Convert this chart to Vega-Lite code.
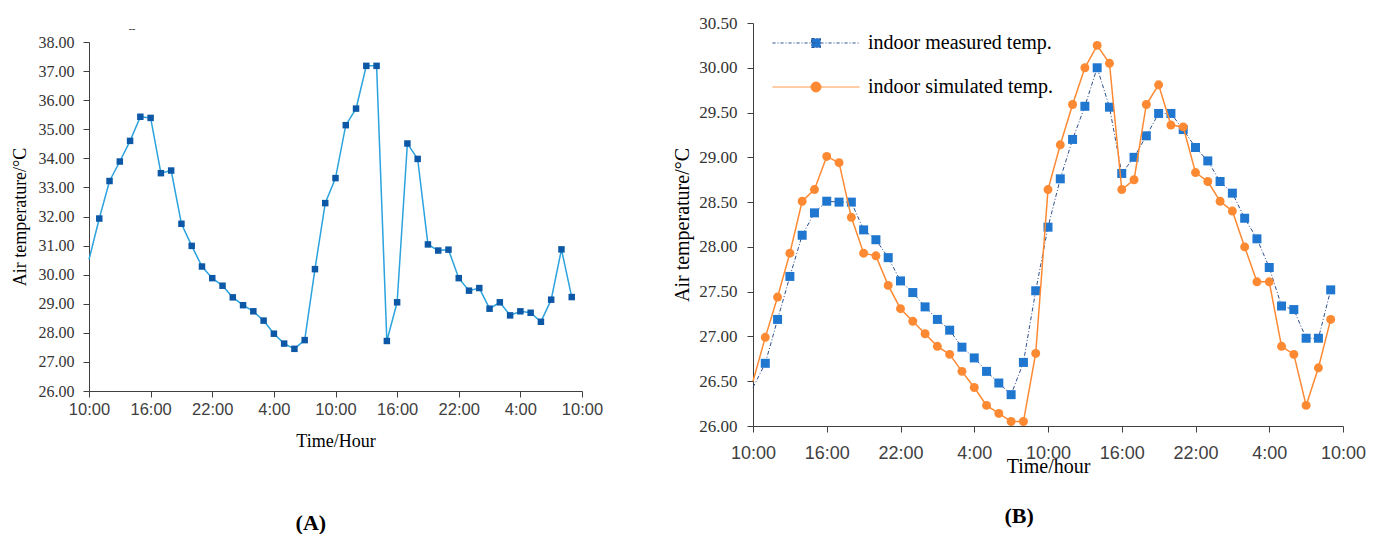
{
  "$schema": "https://vega.github.io/schema/vega-lite/v6.json",
  "background": "white",
  "padding": {"left": 11, "top": 14, "right": 0, "bottom": 0},
  "spacing": 69,
  "resolve": {"legend": {"stroke": "independent", "fill": "independent", "shape": "independent", "strokeDash": "independent"}},
  "config": {
    "view": {"stroke": null},
    "axis": {"grid": false, "domainColor": "#404040", "tickColor": "#404040", "tickSize": 6, "titleFont": "Liberation Serif", "titleFontWeight": "normal", "titleColor": "#000000", "labelOverlap": false, "labelFlush": false},
    "title": {"font": "Liberation Serif", "color": "#000000"},
    "legend": {"orient": "none", "legendX": 53, "legendY": 10, "title": null, "padding": 0,
      "symbolSize": 144, "symbolStrokeWidth": 1, "symbolOpacity": 1, "rowPadding": 24,
      "labelFont": "Liberation Serif", "labelFontSize": 20, "labelColor": "#000000", "labelOffset": 42, "labelLimit": 400}
  },
  "datasets": {
    "a": [
      {"hour": 0, "temp": 30.52}, {"hour": 1, "temp": 31.93}, {"hour": 2, "temp": 33.22}, {"hour": 3, "temp": 33.89},
      {"hour": 4, "temp": 34.6}, {"hour": 5, "temp": 35.43}, {"hour": 6, "temp": 35.39}, {"hour": 7, "temp": 33.49},
      {"hour": 8, "temp": 33.58}, {"hour": 9, "temp": 31.75}, {"hour": 10, "temp": 30.99}, {"hour": 11, "temp": 30.28},
      {"hour": 12, "temp": 29.88}, {"hour": 13, "temp": 29.62}, {"hour": 14, "temp": 29.22}, {"hour": 15, "temp": 28.95},
      {"hour": 16, "temp": 28.74}, {"hour": 17, "temp": 28.42}, {"hour": 18, "temp": 27.97}, {"hour": 19, "temp": 27.63},
      {"hour": 20, "temp": 27.45}, {"hour": 21, "temp": 27.75}, {"hour": 22, "temp": 30.19}, {"hour": 23, "temp": 32.46},
      {"hour": 24, "temp": 33.32}, {"hour": 25, "temp": 35.14}, {"hour": 26, "temp": 35.71}, {"hour": 27, "temp": 37.18},
      {"hour": 28, "temp": 37.18}, {"hour": 29, "temp": 27.72}, {"hour": 30, "temp": 29.05}, {"hour": 31, "temp": 34.51},
      {"hour": 32, "temp": 33.98}, {"hour": 33, "temp": 31.04}, {"hour": 34, "temp": 30.83}, {"hour": 35, "temp": 30.86},
      {"hour": 36, "temp": 29.88}, {"hour": 37, "temp": 29.45}, {"hour": 38, "temp": 29.54}, {"hour": 39, "temp": 28.83},
      {"hour": 40, "temp": 29.05}, {"hour": 41, "temp": 28.6}, {"hour": 42, "temp": 28.74}, {"hour": 43, "temp": 28.69},
      {"hour": 44, "temp": 28.38}, {"hour": 45, "temp": 29.14}, {"hour": 46, "temp": 30.87}, {"hour": 47, "temp": 29.23}
    ],
    "b": [
      {"hour": 0, "series": "indoor measured temp.", "temp": 26.43}, {"hour": 1, "series": "indoor measured temp.", "temp": 26.7},
      {"hour": 2, "series": "indoor measured temp.", "temp": 27.19}, {"hour": 3, "series": "indoor measured temp.", "temp": 27.67},
      {"hour": 4, "series": "indoor measured temp.", "temp": 28.13}, {"hour": 5, "series": "indoor measured temp.", "temp": 28.38},
      {"hour": 6, "series": "indoor measured temp.", "temp": 28.51}, {"hour": 7, "series": "indoor measured temp.", "temp": 28.5},
      {"hour": 8, "series": "indoor measured temp.", "temp": 28.5}, {"hour": 9, "series": "indoor measured temp.", "temp": 28.19},
      {"hour": 10, "series": "indoor measured temp.", "temp": 28.08}, {"hour": 11, "series": "indoor measured temp.", "temp": 27.88},
      {"hour": 12, "series": "indoor measured temp.", "temp": 27.62}, {"hour": 13, "series": "indoor measured temp.", "temp": 27.49},
      {"hour": 14, "series": "indoor measured temp.", "temp": 27.33}, {"hour": 15, "series": "indoor measured temp.", "temp": 27.19},
      {"hour": 16, "series": "indoor measured temp.", "temp": 27.07}, {"hour": 17, "series": "indoor measured temp.", "temp": 26.88},
      {"hour": 18, "series": "indoor measured temp.", "temp": 26.76}, {"hour": 19, "series": "indoor measured temp.", "temp": 26.61},
      {"hour": 20, "series": "indoor measured temp.", "temp": 26.48}, {"hour": 21, "series": "indoor measured temp.", "temp": 26.35},
      {"hour": 22, "series": "indoor measured temp.", "temp": 26.71}, {"hour": 23, "series": "indoor measured temp.", "temp": 27.51},
      {"hour": 24, "series": "indoor measured temp.", "temp": 28.22}, {"hour": 25, "series": "indoor measured temp.", "temp": 28.76},
      {"hour": 26, "series": "indoor measured temp.", "temp": 29.2}, {"hour": 27, "series": "indoor measured temp.", "temp": 29.57},
      {"hour": 28, "series": "indoor measured temp.", "temp": 30.0}, {"hour": 29, "series": "indoor measured temp.", "temp": 29.56},
      {"hour": 30, "series": "indoor measured temp.", "temp": 28.82}, {"hour": 31, "series": "indoor measured temp.", "temp": 29.0},
      {"hour": 32, "series": "indoor measured temp.", "temp": 29.24}, {"hour": 33, "series": "indoor measured temp.", "temp": 29.49},
      {"hour": 34, "series": "indoor measured temp.", "temp": 29.49}, {"hour": 35, "series": "indoor measured temp.", "temp": 29.31},
      {"hour": 36, "series": "indoor measured temp.", "temp": 29.11}, {"hour": 37, "series": "indoor measured temp.", "temp": 28.96},
      {"hour": 38, "series": "indoor measured temp.", "temp": 28.73}, {"hour": 39, "series": "indoor measured temp.", "temp": 28.6},
      {"hour": 40, "series": "indoor measured temp.", "temp": 28.32}, {"hour": 41, "series": "indoor measured temp.", "temp": 28.09},
      {"hour": 42, "series": "indoor measured temp.", "temp": 27.77}, {"hour": 43, "series": "indoor measured temp.", "temp": 27.34},
      {"hour": 44, "series": "indoor measured temp.", "temp": 27.3}, {"hour": 45, "series": "indoor measured temp.", "temp": 26.98},
      {"hour": 46, "series": "indoor measured temp.", "temp": 26.98}, {"hour": 47, "series": "indoor measured temp.", "temp": 27.52},
      {"hour": 0, "series": "indoor simulated temp.", "temp": 26.5}, {"hour": 1, "series": "indoor simulated temp.", "temp": 26.99},
      {"hour": 2, "series": "indoor simulated temp.", "temp": 27.44}, {"hour": 3, "series": "indoor simulated temp.", "temp": 27.93},
      {"hour": 4, "series": "indoor simulated temp.", "temp": 28.51}, {"hour": 5, "series": "indoor simulated temp.", "temp": 28.64},
      {"hour": 6, "series": "indoor simulated temp.", "temp": 29.01}, {"hour": 7, "series": "indoor simulated temp.", "temp": 28.94},
      {"hour": 8, "series": "indoor simulated temp.", "temp": 28.33}, {"hour": 9, "series": "indoor simulated temp.", "temp": 27.93},
      {"hour": 10, "series": "indoor simulated temp.", "temp": 27.9}, {"hour": 11, "series": "indoor simulated temp.", "temp": 27.57},
      {"hour": 12, "series": "indoor simulated temp.", "temp": 27.31}, {"hour": 13, "series": "indoor simulated temp.", "temp": 27.17},
      {"hour": 14, "series": "indoor simulated temp.", "temp": 27.03}, {"hour": 15, "series": "indoor simulated temp.", "temp": 26.89},
      {"hour": 16, "series": "indoor simulated temp.", "temp": 26.8}, {"hour": 17, "series": "indoor simulated temp.", "temp": 26.61},
      {"hour": 18, "series": "indoor simulated temp.", "temp": 26.43}, {"hour": 19, "series": "indoor simulated temp.", "temp": 26.23},
      {"hour": 20, "series": "indoor simulated temp.", "temp": 26.14}, {"hour": 21, "series": "indoor simulated temp.", "temp": 26.05},
      {"hour": 22, "series": "indoor simulated temp.", "temp": 26.05}, {"hour": 23, "series": "indoor simulated temp.", "temp": 26.81},
      {"hour": 24, "series": "indoor simulated temp.", "temp": 28.64}, {"hour": 25, "series": "indoor simulated temp.", "temp": 29.14},
      {"hour": 26, "series": "indoor simulated temp.", "temp": 29.59}, {"hour": 27, "series": "indoor simulated temp.", "temp": 30.0},
      {"hour": 28, "series": "indoor simulated temp.", "temp": 30.25}, {"hour": 29, "series": "indoor simulated temp.", "temp": 30.05},
      {"hour": 30, "series": "indoor simulated temp.", "temp": 28.64}, {"hour": 31, "series": "indoor simulated temp.", "temp": 28.75},
      {"hour": 32, "series": "indoor simulated temp.", "temp": 29.59}, {"hour": 33, "series": "indoor simulated temp.", "temp": 29.81},
      {"hour": 34, "series": "indoor simulated temp.", "temp": 29.36}, {"hour": 35, "series": "indoor simulated temp.", "temp": 29.34},
      {"hour": 36, "series": "indoor simulated temp.", "temp": 28.83}, {"hour": 37, "series": "indoor simulated temp.", "temp": 28.73},
      {"hour": 38, "series": "indoor simulated temp.", "temp": 28.51}, {"hour": 39, "series": "indoor simulated temp.", "temp": 28.4},
      {"hour": 40, "series": "indoor simulated temp.", "temp": 28.0}, {"hour": 41, "series": "indoor simulated temp.", "temp": 27.61},
      {"hour": 42, "series": "indoor simulated temp.", "temp": 27.61}, {"hour": 43, "series": "indoor simulated temp.", "temp": 26.89},
      {"hour": 44, "series": "indoor simulated temp.", "temp": 26.8}, {"hour": 45, "series": "indoor simulated temp.", "temp": 26.23},
      {"hour": 46, "series": "indoor simulated temp.", "temp": 26.65}, {"hour": 47, "series": "indoor simulated temp.", "temp": 27.19}
    ]
  },
  "hconcat": [
    {
      "title": {"text": "(A)", "orient": "bottom", "frame": "bounds", "anchor": "middle", "fontSize": 22, "fontWeight": "bold", "offset": 62, "dx": 4},
      "spacing": 0,
      "vconcat": [
        {
          "width": 86,
          "height": 11,
          "data": {"values": [{"note": "--"}]},
          "mark": {"type": "text", "font": "Liberation Serif", "fontSize": 10, "fontWeight": "bold", "color": "#444444"},
          "encoding": {"text": {"field": "note", "type": "nominal"}}
        },
        {
          "width": 493,
          "height": 349,
          "data": {"name": "a"},
          "encoding": {
            "x": {"field": "hour", "type": "quantitative", "scale": {"domain": [0, 48], "nice": false},
              "axis": {"values": [0, 6, 12, 18, 24, 30, 36, 42, 48], "labelExpr": "['10:00','16:00','22:00','4:00'][(datum.value/6)%4]",
                "labelFont": "Liberation Sans", "labelFontSize": 16.5, "labelColor": "#404040", "labelPadding": 4,
                "title": "Time/Hour", "titleFontSize": 18, "titlePadding": 15}},
            "y": {"field": "temp", "type": "quantitative", "scale": {"domain": [26, 38], "nice": false, "zero": false},
              "axis": {"values": [26, 27, 28, 29, 30, 31, 32, 33, 34, 35, 36, 37, 38], "format": ".2f",
                "labelFont": "Liberation Serif", "labelFontSize": 16, "labelColor": "#333333", "labelPadding": 9,
                "title": "Air temperature/°C", "titleFontSize": 18, "titlePadding": 9}}
          },
          "layer": [
            {"mark": {"type": "line", "color": "#2ba3de", "strokeWidth": 1.5}},
            {"transform": [{"filter": "datum.hour > 0"}],
             "mark": {"type": "point", "shape": "square", "filled": true, "color": "#0d58a6", "size": 42, "opacity": 1}}
          ]
        }
      ]
    },
    {
      "width": 590,
      "height": 403,
      "data": {"name": "b"},
      "title": {"text": "(B)", "orient": "bottom", "frame": "bounds", "anchor": "middle", "fontSize": 22, "fontWeight": "bold", "offset": 30},
      "encoding": {
        "x": {"field": "hour", "type": "quantitative", "scale": {"domain": [0, 48], "nice": false},
          "axis": {"values": [0, 6, 12, 18, 24, 30, 36, 42, 48], "labelExpr": "['10:00','16:00','22:00','4:00'][(datum.value/6)%4]",
            "labelFont": "Liberation Sans", "labelFontSize": 18, "labelColor": "#404040", "labelPadding": 12,
            "title": "Time/hour", "titleFontSize": 20, "titlePadding": -6}},
        "y": {"field": "temp", "type": "quantitative", "scale": {"domain": [26, 30.5], "nice": false, "zero": false},
          "axis": {"values": [26, 26.5, 27, 27.5, 28, 28.5, 29, 29.5, 30, 30.5], "format": ".2f",
            "labelFont": "Liberation Serif", "labelFontSize": 17, "labelColor": "#333333", "labelPadding": 10,
            "title": "Air temperature/°C", "titleFontSize": 20, "titlePadding": 6}}
      },
      "layer": [
        {"transform": [{"filter": "datum.series === 'indoor measured temp.'"}],
         "mark": {"type": "line", "color": "#2f4f8c", "strokeWidth": 1, "strokeDash": [4, 2, 1, 2]}},
        {"transform": [{"filter": "datum.series === 'indoor measured temp.' && datum.hour > 0"}],
         "mark": {"type": "point", "shape": "square", "filled": true, "color": "#1f77d0", "size": 81, "opacity": 1}},
        {"transform": [{"filter": "datum.series === 'indoor simulated temp.'"}],
         "mark": {"type": "line", "color": "#fd8a33", "strokeWidth": 1.5}},
        {"transform": [{"filter": "datum.series === 'indoor simulated temp.' && datum.hour > 0"}],
         "mark": {"type": "point", "shape": "circle", "filled": true, "color": "#fd8a33", "size": 80, "opacity": 1}},
        {"transform": [{"filter": "datum.hour < 0"}],
         "mark": {"type": "point", "size": 144, "strokeWidth": 1},
         "encoding": {
           "fill": {"field": "series", "type": "nominal", "title": null,
             "scale": {"domain": ["indoor measured temp.", "indoor simulated temp."], "range": ["#1f77d0", "#fd8a33"]}},
           "stroke": {"field": "series", "type": "nominal", "title": null,
             "scale": {"domain": ["indoor measured temp.", "indoor simulated temp."], "range": ["#2f4f8c", "#fd8a33"]}},
           "shape": {"field": "series", "type": "nominal", "title": null,
             "scale": {"domain": ["indoor measured temp.", "indoor simulated temp."],
               "range": ["M-7.25,0H7.25M-0.75,-0.75H0.75V0.75H-0.75Z", "M-7.25,0H7.25M0.83,0A0.83,0.83,0,1,1,-0.83,0A0.83,0.83,0,1,1,0.83,0Z"]}},
           "strokeDash": {"field": "series", "type": "nominal", "title": null,
             "scale": {"domain": ["indoor measured temp.", "indoor simulated temp."], "range": [[3, 2, 1, 2], [1, 0]]}}
         }}
      ]
    }
  ]
}
